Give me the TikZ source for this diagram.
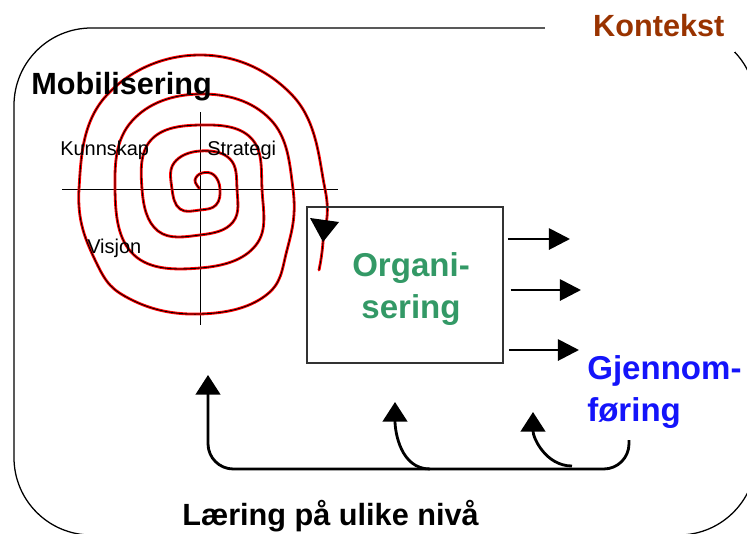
\documentclass[tikz,border=0pt]{standalone}
\usepackage{fontspec}
\setmainfont{Liberation Sans}
\usetikzlibrary{arrows.meta}

\definecolor{orgGreen}{RGB}{51,153,102}
\definecolor{ctxBrown}{RGB}{153,51,0}
\definecolor{doBlue}{RGB}{20,20,250}

\begin{document}
\begin{tikzpicture}[x=0.025cm, y=-0.025cm,
    big/.style={font=\fontsize{21.8}{30}\selectfont\bfseries, inner sep=0pt},
    bigger/.style={font=\fontsize{23.5}{30.5}\selectfont\bfseries, inner sep=0pt},
    small/.style={font=\fontsize{14.2}{16}\selectfont, inner sep=0pt},
    spiral/.style={draw=red, double=black, line width=0.7pt, double distance=0.6pt, line cap=round},
    outarrow/.style={-{Triangle[width=15pt,length=15pt]}, line width=2pt, shorten <=3pt},
    feedback/.style={-{Triangle[width=17.5pt,length=14pt]}, line width=2pt}]
  \useasboundingbox (0,0) rectangle (747,533);
  \clip (0,0) rectangle (747,533);

  % context frame, broken by the label
  \draw[line width=0.9pt, rounded corners=55pt] (14,28) rectangle (756,535);
  \node (kontekst) [big, text=ctxBrown, fill=white, align=right, text width=120pt,
    inner xsep=7.5pt, minimum height=37pt] at (640,26) {Kontekst};

  % axes and spiral
  \draw[line width=0.7pt] (62,189) -- (338,189);
  \draw[line width=0.7pt] (200,112) -- (200,325);
  \draw[spiral] plot[smooth, tension=0.7] coordinates {
    (199,188) (195,180) (202,173) (214,175) (220,189) (216,205) (200,210)
    (180,209) (172,189) (174,163) (200,151) (230,159) (237,189) (233,222)
    (200,235) (158,231) (142,189) (151,140) (200,125) (251,138) (262,189)
    (256,245) (200,268) (134,255) (115,189) (132,121) (200,94) (270,119)
    (293,189) (287,250) (265,296) (200,314) (132,300) (96,262) (79,189)
    (106,96) (200,55) (293,96) (325,189) (323,242) (319,270)};
  \fill (310,218) -- (339,222) -- (323,242) -- cycle;

  \node (mobil) [big, anchor=base west] at (31,94) {Mobilisering};
  \node (kunnskap) [small, anchor=base west] at (60,155) {Kunnskap};
  \node (strategi) [small, anchor=base west] at (207,155) {Strategi};
  \node (visjon) [small, anchor=base west] at (87,253) {Visjon};

  % organisation box
  \node (org) [draw=black!80, line width=0.8pt,
    minimum width=139.4pt, minimum height=111pt] at (405,285) {};
  \node (orglabel) [bigger, text=orgGreen, align=center] at (411,289) {Organi-\\sering};

  \coordinate (o1) at (570,239);
  \coordinate (o2) at (581,290);
  \coordinate (o3) at (579,350);
  \draw[outarrow] (org.east |- o1) -- (o1);
  \draw[outarrow, shorten <=5pt] (org.east |- o2) -- (o2);
  \draw[outarrow, shorten <=4pt] (org.east |- o3) -- (o3);

  \node (gjennom) [bigger, text=doBlue, align=left, anchor=west] at (587,392) {Gjennom-\\føring};

  % learning loops
  \coordinate (lv1) at (208,375);
  \coordinate (lv2) at (395,402);
  \coordinate (lv3) at (533,412);
  \coordinate (gj) at (629,440);
  \draw[feedback, rounded corners=18pt] (gj) -- (629,469) -- (208,469) -- (lv1);
  \draw[feedback] (430,469) to[out=180, in=-90] (lv2);
  \draw[feedback] (572,466) to[out=180, in=-90] (lv3);

  \node (laering) [big, anchor=base west] at (182,525) {Læring på ulike nivå};
\end{tikzpicture}
\end{document}
